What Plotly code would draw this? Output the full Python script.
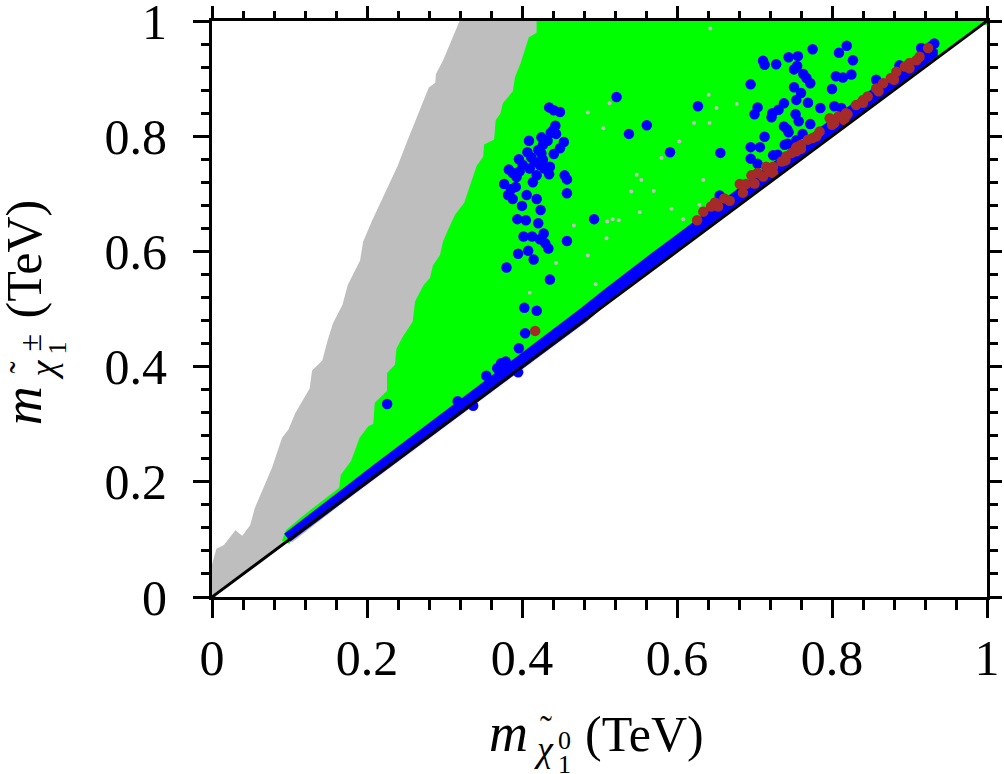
import plotly.graph_objects as go

# Excluded / allowed parameter regions (outline in TeV)
grey_x = [0.000, 0.000, 0.004, 0.010, 0.019, 0.031, 0.040, 0.054, 0.060, 0.071, 0.082, 0.095, 0.103, 0.112, 0.121,
          0.131, 0.134, 0.147, 0.154, 0.161, 0.173, 0.180, 0.196, 0.200, 0.211, 0.222, 0.233, 0.244, 0.257, 0.264,
          0.276, 0.284, 0.293, 0.294, 0.303, 0.312, 0.318, 0.325, 0.450, 0.450, 0.100]
grey_y = [0.000, 0.030, 0.050, 0.079, 0.085, 0.106, 0.096, 0.122, 0.152, 0.186, 0.221, 0.273, 0.287, 0.316, 0.337,
          0.360, 0.390, 0.407, 0.443, 0.473, 0.504, 0.539, 0.582, 0.615, 0.650, 0.681, 0.711, 0.745, 0.790, 0.814,
          0.849, 0.880, 0.889, 0.906, 0.929, 0.958, 0.976, 1.000, 1.000, 0.470, 0.100]

green_x = [0.095, 0.100, 0.120, 0.140, 0.161, 0.169, 0.171, 0.184, 0.195, 0.205, 0.213, 0.215, 0.231, 0.231, 0.241,
           0.243, 0.250, 0.256, 0.264, 0.267, 0.277, 0.286, 0.290, 0.299, 0.303, 0.309, 0.318, 0.330, 0.337, 0.346,
           0.355, 0.356, 0.369, 0.371, 0.377, 0.380, 0.393, 0.396, 0.403, 0.410, 0.413, 0.424, 0.424, 1.000]
green_y = [0.095, 0.112, 0.135, 0.155, 0.174, 0.186, 0.209, 0.233, 0.273, 0.291, 0.296, 0.334, 0.355, 0.386, 0.400,
           0.429, 0.447, 0.461, 0.476, 0.511, 0.537, 0.551, 0.573, 0.591, 0.615, 0.634, 0.660, 0.681, 0.710, 0.745,
           0.762, 0.781, 0.790, 0.825, 0.837, 0.854, 0.875, 0.901, 0.924, 0.950, 0.967, 0.976, 1.000, 1.000]

# Small gaps left inside the green region
gap_x = [0.643, 0.513, 0.485, 0.505, 0.622, 0.642, 0.651, 0.677, 0.641, 0.603, 0.580, 0.548, 0.554, 0.541, 0.634,
         0.570, 0.593, 0.552, 0.517, 0.510, 0.525, 0.509, 0.485, 0.495, 0.467, 0.444, 0.410, 0.629, 0.608]
gap_y = [0.987, 0.857, 0.841, 0.814, 0.823, 0.823, 0.849, 0.856, 0.872, 0.791, 0.762, 0.733, 0.724, 0.704, 0.724,
         0.705, 0.674, 0.668, 0.656, 0.652, 0.654, 0.623, 0.593, 0.543, 0.645, 0.580, 0.528, 0.681, 0.656]

# Dense blue band just above the diagonal
band_x = [0.097, 0.120, 0.150, 0.180, 0.210, 0.240, 0.270, 0.300, 0.330, 0.360, 0.390, 0.420, 0.450, 0.480, 0.510,
          0.540, 0.570, 0.600, 0.630, 0.660, 0.700, 0.750, 0.800, 0.850, 0.900, 0.930]
band_upper = [0.103, 0.128, 0.158, 0.189, 0.220, 0.250, 0.281, 0.311, 0.341, 0.372, 0.403, 0.434, 0.464, 0.495, 0.527,
              0.560, 0.589, 0.619, 0.650, 0.680, 0.720, 0.770, 0.820, 0.870, 0.920, 0.950]
band_lower = [0.103, 0.126, 0.156, 0.186, 0.216, 0.246, 0.276, 0.306, 0.336, 0.366, 0.396, 0.426, 0.456, 0.486, 0.520,
              0.550, 0.580, 0.610, 0.640, 0.672, 0.714, 0.764, 0.814, 0.864, 0.914, 0.944]

# Isolated blue points
blue_x = [0.435, 0.441, 0.449, 0.443, 0.440, 0.444, 0.437, 0.409, 0.425, 0.433, 0.454, 0.449, 0.441, 0.427, 0.421,
          0.407, 0.425, 0.412, 0.396, 0.416, 0.427, 0.401, 0.410, 0.383, 0.388, 0.397, 0.393, 0.423, 0.429, 0.436,
          0.435, 0.419, 0.414, 0.455, 0.458, 0.377, 0.392, 0.386, 0.458, 0.382, 0.388, 0.406, 0.419, 0.400, 0.424,
          0.394, 0.405, 0.421, 0.493, 0.402, 0.413, 0.428, 0.423, 0.430, 0.434, 0.458, 0.408, 0.395, 0.415, 0.380,
          0.436, 0.403, 0.419, 0.404, 0.396, 0.379, 0.373, 0.368, 0.375, 0.354, 0.317, 0.226, 0.337, 0.395,
          0.522, 0.538, 0.561, 0.591, 0.627, 0.656, 0.655,
          0.775, 0.819, 0.809, 0.827, 0.744, 0.756, 0.711, 0.713, 0.728, 0.755, 0.751, 0.763, 0.767, 0.772, 0.695,
          0.751, 0.760, 0.754, 0.769, 0.800, 0.805, 0.814, 0.825, 0.738, 0.785, 0.803, 0.812, 0.731, 0.723, 0.722,
          0.704, 0.700, 0.753, 0.757, 0.772, 0.738, 0.744, 0.742, 0.713, 0.762, 0.695, 0.707, 0.739, 0.743, 0.754,
          0.724, 0.730, 0.695, 0.704, 0.857, 0.887, 0.915, 0.932, 0.928]
blue_y = [0.850, 0.845, 0.842, 0.818, 0.810, 0.804, 0.806, 0.792, 0.798, 0.792, 0.790, 0.779, 0.769, 0.785, 0.776,
          0.772, 0.770, 0.763, 0.760, 0.756, 0.759, 0.750, 0.744, 0.742, 0.736, 0.739, 0.729, 0.750, 0.744, 0.747,
          0.734, 0.732, 0.720, 0.732, 0.725, 0.717, 0.712, 0.708, 0.701, 0.698, 0.691, 0.698, 0.691, 0.679, 0.672,
          0.656, 0.654, 0.649, 0.656, 0.626, 0.626, 0.631, 0.621, 0.614, 0.605, 0.618, 0.601, 0.596, 0.586, 0.572,
          0.551, 0.502, 0.497, 0.458, 0.432, 0.409, 0.406, 0.397, 0.397, 0.384, 0.340, 0.335, 0.332, 0.390,
          0.868, 0.804, 0.819, 0.772, 0.852, 0.771, 0.697,
          0.951, 0.957, 0.945, 0.932, 0.937, 0.939, 0.931, 0.924, 0.925, 0.922, 0.916, 0.908, 0.901, 0.892, 0.890,
          0.885, 0.875, 0.863, 0.858, 0.882, 0.904, 0.902, 0.907, 0.857, 0.849, 0.852, 0.849, 0.846, 0.840, 0.833,
          0.850, 0.838, 0.838, 0.826, 0.821, 0.817, 0.807, 0.812, 0.799, 0.804, 0.781, 0.781, 0.785, 0.787, 0.793,
          0.767, 0.768, 0.761, 0.752, 0.898, 0.923, 0.953, 0.961, 0.956]

# Brown points
brown_x = [0.417, 0.626, 0.634, 0.644, 0.649, 0.653, 0.661, 0.668, 0.681, 0.689, 0.685, 0.696, 0.704, 0.711, 0.715,
           0.724, 0.724, 0.735, 0.741, 0.748, 0.754, 0.754, 0.760, 0.769, 0.775, 0.784, 0.797, 0.808, 0.803, 0.818,
           0.816, 0.831, 0.840, 0.846, 0.857, 0.866, 0.876, 0.883, 0.894, 0.900, 0.909, 0.913, 0.924,
           0.700, 0.720, 0.740, 0.760, 0.780, 0.800, 0.820, 0.840, 0.860, 0.880, 0.900]
brown_y = [0.462, 0.654, 0.669, 0.678, 0.685, 0.678, 0.692, 0.688, 0.717, 0.717, 0.702, 0.732, 0.736, 0.730, 0.747,
           0.747, 0.736, 0.756, 0.765, 0.771, 0.774, 0.781, 0.785, 0.794, 0.797, 0.808, 0.831, 0.834, 0.823, 0.840,
           0.828, 0.854, 0.863, 0.869, 0.883, 0.892, 0.901, 0.912, 0.921, 0.927, 0.932, 0.938, 0.953,
           0.718, 0.738, 0.758, 0.778, 0.800, 0.820, 0.838, 0.858, 0.878, 0.898, 0.918]

# Reference line where both masses are equal
diagonal = [0, 1]

major_ticks = [0, 0.2, 0.4, 0.6, 0.8, 1]
major_labels = ["0", "0.2", "0.4", "0.6", "0.8", "1"]

GREY, GREEN, BLUE, BROWN = "#bebebe", "#00ff00", "#0000ff", "#a52a2a"
SERIF = "Liberation Serif"
LEFT, RIGHT, TOP, BOTTOM = 212.3, 987.3, 21.0, 597.5


def region(x, y, color, width):
    return go.Scatter(x=x, y=y, mode="lines", fill="toself", fillcolor=color,
                      line=dict(color=color, width=width), cliponaxis=False,
                      hoverinfo="skip", showlegend=False)


def dots(x, y, color, size):
    return go.Scatter(x=x, y=y, mode="markers", cliponaxis=False, showlegend=False,
                      marker=dict(color=color, size=size, line=dict(width=0)))


fig = go.Figure()
fig.add_trace(region(grey_x, grey_y, GREY, 8))
fig.add_trace(region(green_x, green_y, GREEN, 8))
fig.add_trace(dots(gap_x, gap_y, GREY, 4))
fig.add_trace(region(band_x + band_x[::-1], band_upper + band_lower[::-1], BLUE, 10))
fig.add_trace(dots(blue_x, blue_y, BLUE, 10.5))
fig.add_trace(dots(brown_x, brown_y, BROWN, 10.5))
fig.add_trace(go.Scatter(x=diagonal, y=diagonal, mode="lines", cliponaxis=False, showlegend=False,
                         line=dict(color="black", width=3)))


def axis_style(length, minor_length, labels):
    return dict(range=[0, 1], showgrid=False, zeroline=False, showline=True, linecolor="black", linewidth=3,
                ticks="outside", ticklen=length, tickwidth=2.5, tickcolor="black", automargin=False,
                tickmode="array", tickvals=major_ticks, ticktext=major_labels, showticklabels=labels,
                tickfont=dict(family=SERIF, size=50, color="black"), ticklabeloverflow="allow",
                minor=dict(tickmode="linear", tick0=0, dtick=0.04, ticks="outside", ticklen=minor_length,
                           tickwidth=2.5, tickcolor="black", showgrid=False))


fig.update_layout(
    width=1004, height=774, autosize=False, showlegend=False,
    paper_bgcolor="white", plot_bgcolor="white",
    margin=dict(l=LEFT, r=1004 - RIGHT, t=TOP, b=774 - BOTTOM, pad=0, autoexpand=False),
    xaxis=dict(axis_style(18, 10, True), ticklabelstandoff=-3),
    yaxis=dict(axis_style(16, 8, True), ticklabelstandoff=16),
    xaxis2=dict(axis_style(12, 7, False), overlaying="x", side="top", anchor="y"),
    yaxis2=dict(axis_style(12, 8, False), overlaying="y", side="right", anchor="x"),
)
# An empty trace keeps the top and right axes on the page
fig.add_trace(go.Scatter(x=[None], y=[None], xaxis="x2", yaxis="y2", showlegend=False))


def label(px, py, text, size, angle=0):
    fig.add_annotation(xref="paper", yref="paper", showarrow=False,
                       x=(px - LEFT) / (RIGHT - LEFT), y=(BOTTOM - py) / (BOTTOM - TOP),
                       xanchor="center", yanchor="middle", text=text, textangle=angle,
                       font=dict(family=SERIF, size=size, color="black"))


# Horizontal axis title, built from stacked scripts
label(509, 734, "<i>m</i>", 54)
label(544, 750, "<i>χ</i>", 36)
label(546, 730, "˜", 36)
label(565, 741, "0", 26)
label(565, 765, "1", 26)
label(645, 735, "(TeV)", 50)

# Vertical axis title
label(23, 406, "<i>m</i>", 54, -90)
label(43, 370, "<i>χ</i>", 36, -90)
label(23, 368, "˜", 36, -90)
label(30, 343, "±", 32, -90)
label(58, 348, "1", 26, -90)
label(24, 259, "(TeV)", 50, -90)

fig.write_html("out.html")
